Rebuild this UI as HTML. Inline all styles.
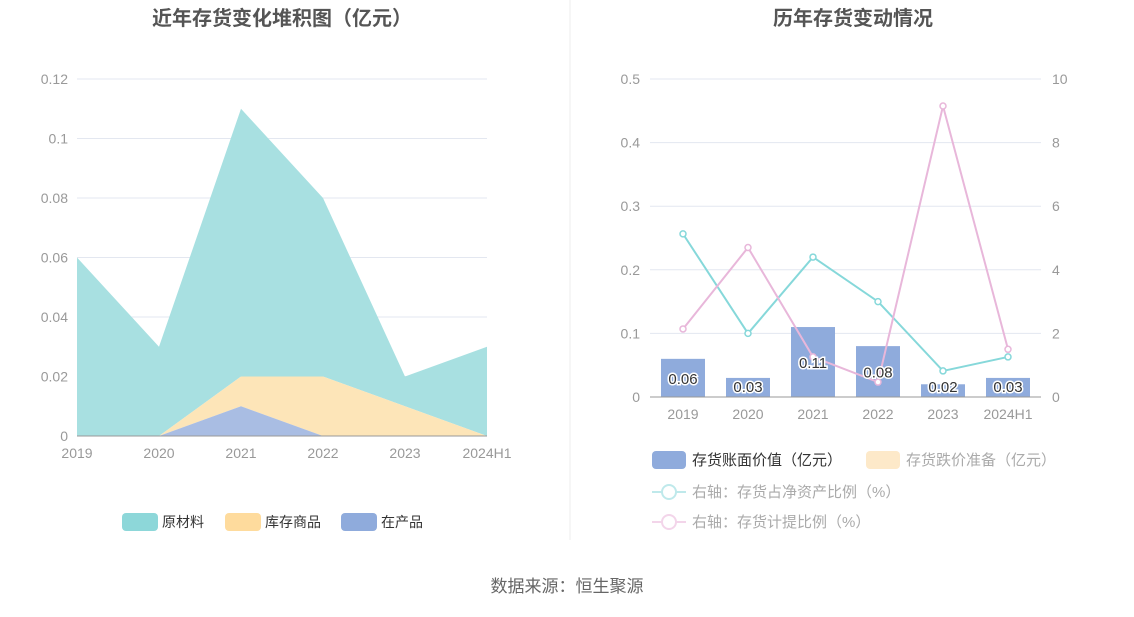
<!DOCTYPE html>
<html><head><meta charset="utf-8"><style>
body{margin:0;background:#fff;font-family:"Liberation Sans","Noto Sans CJK SC",sans-serif}
svg text{font-family:"Liberation Sans","Noto Sans CJK SC",sans-serif}
</style></head><body>
<svg id="c" width="1134" height="612" xmlns="http://www.w3.org/2000/svg">
<text x="282" y="25" text-anchor="middle" font-size="20" font-weight="bold" fill="#555">近年存货变化堆积图（亿元）</text>
<text x="853" y="25" text-anchor="middle" font-size="20" font-weight="bold" fill="#555">历年存货变动情况</text>
<line x1="570" y1="0" x2="570" y2="540" stroke="#eee"/>
<g id="left"></g><g id="right"></g>
<g font-size="14" fill="#333">
<rect x="122" y="513" width="36" height="18" rx="4" fill="#8dd7d9"/><text x="162" y="527">原材料</text>
<rect x="225" y="513" width="36" height="18" rx="4" fill="#fedb9d"/><text x="265" y="527">库存商品</text>
<rect x="341" y="513" width="36" height="18" rx="4" fill="#8fabdc"/><text x="381" y="527">在产品</text>
</g>
<g font-size="15">
<rect x="652" y="451" width="34" height="18" rx="4" fill="#8fabdc"/><text x="692" y="465" fill="#333">存货账面价值（亿元）</text>
<rect x="866" y="451" width="34" height="18" rx="4" fill="#fde9c9"/><text x="906" y="465" fill="#aaa">存货跌价准备（亿元）</text>
<line x1="652" y1="492" x2="686" y2="492" stroke="#bfe9eb" stroke-width="2"/><circle cx="669" cy="492" r="7" fill="#fff" stroke="#bfe9eb" stroke-width="2"/><text x="692" y="497" fill="#aaa">右轴：存货占净资产比例（%）</text>
<line x1="652" y1="522" x2="686" y2="522" stroke="#f3d5ea" stroke-width="2"/><circle cx="669" cy="522" r="7" fill="#fff" stroke="#f3d5ea" stroke-width="2"/><text x="692" y="527" fill="#aaa">右轴：存货计提比例（%）</text>
</g>
<text x="567" y="592" text-anchor="middle" font-size="17" fill="#666">数据来源：恒生聚源</text>
</svg>
<script>
const categories=["2019","2020","2021","2022","2023","2024H1"];
const rawMaterial=[0.06,0.03,0.09,0.06,0.01,0.03];
const finishedGoods=[0,0,0.01,0.02,0.01,0];
const wip=[0,0,0.01,0,0,0];
const leftTicks=["0","0.02","0.04","0.06","0.08","0.1","0.12"];
const bookValue=[0.06,0.03,0.11,0.08,0.02,0.03];
const bookLabels=["0.06","0.03","0.11","0.08","0.02","0.03"];
const netAssetRatio=[5.13,2.0,4.4,3.0,0.82,1.26];
const provisionRatio=[2.14,4.7,1.26,0.47,9.15,1.5];
const rightLTicks=["0","0.1","0.2","0.3","0.4","0.5"];
const rightRTicks=["0","2","4","6","8","10"];
const NS="http://www.w3.org/2000/svg";
function mk(p,t,a){const e=document.createElementNS(NS,t);for(const k in a)e.setAttribute(k,a[k]);p.appendChild(e);return e;}
// left
const L=document.getElementById('left');
const lx=i=>77+i*82, ly=v=>436-v/0.12*357;
leftTicks.forEach((t,i)=>{const v=i*0.02;const g=mk(L,'line',{x1:77,x2:487,y1:ly(v),y2:ly(v),stroke:'#e3e7f0'});

const tx=mk(L,'text',{x:68,y:ly(v)+5,'text-anchor':'end','font-size':14,fill:'#999'});tx.textContent=t;
});
const cum0=wip.slice(),cum1=wip.map((v,i)=>v+finishedGoods[i]),cum2=cum1.map((v,i)=>v+rawMaterial[i]);
function area(top,bot,fill,name){let d='M'+top.map((v,i)=>lx(i)+','+ly(v)).join('L');
for(let i=bot.length-1;i>=0;i--)d+='L'+lx(i)+','+ly(bot[i]);
const p=mk(L,'path',{d:d+'Z',fill:fill});}
const zero=wip.map(()=>0);
area(cum2,cum1,'#a8e0e1','area-raw-material');
area(cum1,cum0,'#fde5b8','area-finished-goods');
area(cum0,zero,'#a9bde3','area-wip');
mk(L,'line',{x1:77,x2:487,y1:436,y2:436,stroke:'#999'});
categories.forEach((c,i)=>{const t=mk(L,'text',{x:lx(i),y:458,'text-anchor':'middle','font-size':14,fill:'#999'});t.textContent=c;
});
// right
const R=document.getElementById('right');
const rx=i=>683+i*65, ryl=v=>397-v/0.5*318, ryr=v=>397-v/10*318;
rightLTicks.forEach((t,i)=>{const y=397-i*318/5;const g=mk(R,'line',{x1:650,x2:1041,y1:y,y2:y,stroke:'#e3e7f0'});

const a=mk(R,'text',{x:640,y:y+5,'text-anchor':'end','font-size':14,fill:'#999'});a.textContent=t;

const b=mk(R,'text',{x:1052,y:y+5,'font-size':14,fill:'#999'});b.textContent=rightRTicks[i];
});
bookValue.forEach((v,i)=>{const r=mk(R,'rect',{x:rx(i)-22,y:ryl(v),width:44,height:397-ryl(v),fill:'#8fabdc'});
});
mk(R,'line',{x1:650,x2:1041,y1:397,y2:397,stroke:'#999'});
categories.forEach((c,i)=>{const t=mk(R,'text',{x:rx(i),y:419,'text-anchor':'middle','font-size':14,fill:'#999'});t.textContent=c;
});
function line(arr,col,name){mk(R,'polyline',{points:arr.map((v,i)=>rx(i)+','+ryr(v)).join(' '),fill:'none',stroke:col,'stroke-width':2});
arr.forEach((v,i)=>{const c=mk(R,'circle',{cx:rx(i),cy:ryr(v),r:3,fill:'#fff',stroke:col,'stroke-width':1.5});
});}
line(netAssetRatio,'#86d8da','net-asset-ratio');
line(provisionRatio,'#e8b7da','provision-ratio');
bookValue.forEach((v,i)=>{const y=(ryl(v)+397)/2+6;const t=mk(R,'text',{x:rx(i),y:Math.min(y,392),'text-anchor':'middle','font-size':15,fill:'#333',stroke:'#fff','stroke-width':3,'paint-order':'stroke'});
t.textContent=bookLabels[i];});
</script>
</body></html>
